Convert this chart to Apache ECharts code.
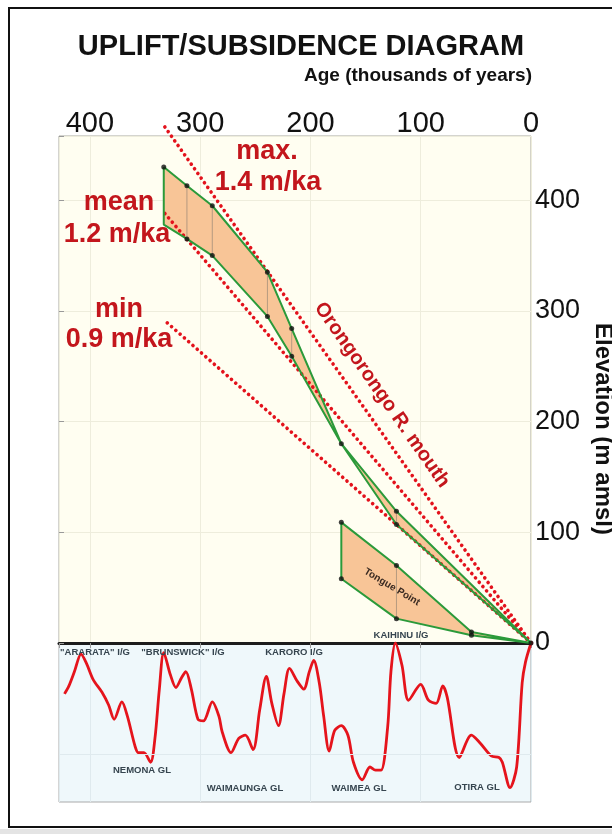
<!DOCTYPE html>
<html>
<head>
<meta charset="utf-8">
<title>Uplift/Subsidence Diagram</title>
<script src="https://cdn.jsdelivr.net/npm/echarts@6/dist/echarts.min.js"></script>
<style>
  html, body { margin: 0; padding: 0; background: #fff; }
  #chart { width: 612px; height: 834px; }
</style>
</head>
<body>
<div id="chart"></div>
<script>
// Orongorongo R. mouth terrace band (age ka, elevation m amsl)
const oroAges = [333, 312, 289, 239, 217, 172, 122, 0];
const oroTop = [430, 413, 395, 335, 284, 180, 119, 0];
const oroBottom = [378, 365, 350, 295, 259, 180, 107, 0];

// Tongue Point band
const tongueAges = [172, 122, 54, 0];
const tongueTop = [109, 70, 10, 0];
const tongueBottom = [58, 22, 7, 0];

// uplift rate lines, all start at (0, 0)
const rateNames = ['max', 'mean', 'min'];
const rateEndAge = [334, 332, 333];
const rateEndElev = [469, 388, 292];

// sea level curve below the diagram (age ka, relative value 0-100)
const curveAges = [423, 419, 414, 408, 403, 397, 389, 383, 378, 371, 366, 359, 356, 351, 345,
  341, 337, 333, 327, 322, 317, 313, 308, 302, 297, 289, 283, 280, 272, 265,
  259, 252, 246, 240, 235, 229, 224, 219, 212, 206, 201, 197, 192, 188, 183,
  178, 172, 166, 161, 153, 146, 141, 136, 130, 127, 123, 117, 111, 100, 93,
  86, 80, 76, 65, 54, 46, 36, 29, 26, 19, 13, 8, 5, 0];
const curveValues = [68, 73, 82, 93, 87, 77, 69, 61, 52, 63, 54, 35, 31, 31, 25,
  40, 71, 94, 80, 72, 78, 82, 71, 52, 51, 63, 54, 44, 31, 40,
  42, 33, 58, 79, 62, 48, 68, 84, 76, 71, 82, 89, 75, 54, 32,
  45, 48, 42, 25, 14, 22, 20, 20, 47, 82, 100, 86, 64, 74, 64,
  62, 73, 66, 28, 42, 37, 29, 28, 25, 9, 22, 75, 88, 100];

const AGE_MAX = 428;
const ELEV_MAX = 458;
const FONT = '"Liberation Sans", Arial, Helvetica, sans-serif';
const RED_TXT = '#c3161c';
const LABEL_TXT = '#36454f';

const bands = [
  { ages: oroAges, top: oroTop, bottom: oroBottom },
  { ages: tongueAges, top: tongueTop, bottom: tongueBottom }
];

// outline of a band: top edge, then bottom edge back, then close
function outline(b) {
  const pts = b.ages.map((a, i) => [a, b.top[i]]);
  for (let i = b.ages.length - 1; i >= 0; i--) pts.push([b.ages[i], b.bottom[i]]);
  pts.push([b.ages[0], b.top[0]]);
  return pts;
}

// black dots on the band edges (no dot on bottom-left corner of upper band)
function dots() {
  const pts = [];
  oroAges.forEach((a, i) => {
    pts.push([a, oroTop[i]]);
    if (i > 0 && oroBottom[i] !== oroTop[i]) pts.push([a, oroBottom[i]]);
  });
  tongueAges.forEach((a, i) => {
    if (i === tongueAges.length - 1) return;
    pts.push([a, tongueTop[i]]);
    pts.push([a, tongueBottom[i]]);
  });
  return pts;
}

function renderBand(params, api) {
  const b = bands[params.dataIndex];
  const top = b.ages.map((a, i) => api.coord([a, b.top[i]]));
  const bot = b.ages.map((a, i) => api.coord([a, b.bottom[i]]));
  const children = [{
    type: 'polygon',
    shape: { points: top.concat(bot.slice().reverse()) },
    style: { fill: '#f8c597' }
  }];
  b.ages.forEach((a, i) => {
    if (i > 0 && b.top[i] !== b.bottom[i]) {
      children.push({
        type: 'line',
        shape: { x1: top[i][0], y1: top[i][1], x2: bot[i][0], y2: bot[i][1] },
        style: { stroke: '#a58f7a', lineWidth: 0.8 }
      });
    }
  });
  return { type: 'group', children: children };
}

const rateSeries = rateNames.map((name, i) => ({
  name: name,
  type: 'line',
  xAxisIndex: 0,
  yAxisIndex: 0,
  data: [[0, 0], [rateEndAge[i], rateEndElev[i]]],
  symbol: 'none',
  clip: false,
  z: 3,
  lineStyle: { color: '#e3121c', width: 3.6, type: [0.1, 5.6], cap: 'round' }
}));

// text helper, always drawn above the plot
function label(text, x, y, font, fill, extra) {
  return Object.assign({
    type: 'text',
    x: x,
    y: y,
    z: 100,
    style: {
      text: text,
      fill: fill || '#111',
      font: font,
      textAlign: 'center',
      textVerticalAlign: 'middle'
    }
  }, extra || {});
}
function redLabel(text, x, y) {
  return label(text, x, y, 'bold 27px ' + FONT, RED_TXT);
}
function smallLabel(text, x, y) {
  return label(text, x, y, 'bold 9.5px ' + FONT, LABEL_TXT);
}

var chartDom = document.getElementById('chart');
var myChart = echarts.init(chartDom);
var option = {
  animation: false,
  backgroundColor: '#fff',
  grid: [
    { left: 59, right: 81, top: 136, height: 507, show: true,
      backgroundColor: '#fffef1', borderColor: '#a8a89e', borderWidth: 1 },
    { left: 59, right: 81, top: 643, height: 159, show: true,
      backgroundColor: '#eff8fb', borderColor: '#a9aaaa', borderWidth: 1 }
  ],
  xAxis: [
    {
      gridIndex: 0, type: 'value', position: 'top', inverse: true,
      min: 0, max: AGE_MAX, interval: 100,
      axisLine: { show: false },
      axisTick: { show: true, inside: true, length: 5, lineStyle: { color: '#999' } },
      axisLabel: {
        fontSize: 29, color: '#111', fontFamily: FONT, margin: -2,
        formatter: v => (v % 100 === 0 ? String(v) : '')
      },
      splitLine: { show: true, lineStyle: { color: '#eeeddc' } }
    },
    {
      gridIndex: 1, type: 'value', position: 'top', inverse: true,
      min: 0, max: AGE_MAX, interval: 100,
      axisLine: { show: true, onZero: false, lineStyle: { color: '#1c1c1c', width: 3 } },
      axisTick: { show: false },
      axisLabel: { show: false },
      splitLine: { show: true, lineStyle: { color: '#dfeaee' } }
    }
  ],
  yAxis: [
    {
      gridIndex: 0, type: 'value', position: 'right',
      min: 0, max: ELEV_MAX, interval: 100,
      axisLine: { show: false },
      axisTick: { show: false },
      axisLabel: {
        fontSize: 27, color: '#111', fontFamily: FONT, margin: 4,
        formatter: v => (v % 100 === 0 ? String(v) : '')
      },
      splitLine: { show: true, lineStyle: { color: '#eeeddc' } }
    },
    {
      gridIndex: 0, type: 'value', position: 'left',
      min: 0, max: ELEV_MAX, interval: 100,
      axisLine: { show: false },
      axisTick: { show: true, inside: true, length: 5, lineStyle: { color: '#999' } },
      axisLabel: { show: false },
      splitLine: { show: false }
    },
    {
      gridIndex: 1, type: 'value', min: 0, max: 100,
      axisLine: { show: false }, axisTick: { show: false },
      axisLabel: { show: false }, splitLine: { show: false }
    }
  ],
  series: [
    {
      name: 'bands',
      type: 'custom',
      xAxisIndex: 0,
      yAxisIndex: 0,
      data: [[0, 0], [1, 0]],
      renderItem: renderBand,
      z: 1
    },
    ...rateSeries,
    {
      name: 'Orongorongo R. mouth',
      type: 'line',
      xAxisIndex: 0, yAxisIndex: 0,
      data: outline(bands[0]),
      symbol: 'none',
      z: 4,
      lineStyle: { color: '#2b9a3a', width: 2 }
    },
    {
      name: 'Tongue Point',
      type: 'line',
      xAxisIndex: 0, yAxisIndex: 0,
      data: outline(bands[1]),
      symbol: 'none',
      z: 4,
      lineStyle: { color: '#2b9a3a', width: 2 }
    },
    {
      name: 'dots',
      type: 'scatter',
      xAxisIndex: 0, yAxisIndex: 0,
      data: dots(),
      symbolSize: 5,
      z: 5,
      itemStyle: { color: '#111' }
    },
    {
      name: 'sea level',
      type: 'line',
      xAxisIndex: 1, yAxisIndex: 2,
      data: curveAges.map((a, i) => [a, curveValues[i]]),
      symbol: 'none',
      smooth: 0.3,
      lineStyle: { color: '#e5141c', width: 2.8 },
      markLine: {
        silent: true, symbol: 'none', label: { show: false },
        lineStyle: { color: '#dfeaee', width: 1, type: 'solid' },
        data: [{ yAxis: 30 }]
      }
    }
  ],
  graphic: [
    { type: 'rect', shape: { x: 9, y: 8, width: 612, height: 819 },
      style: { fill: 'none', stroke: '#111', lineWidth: 2 }, z: 100 },
    { type: 'rect', shape: { x: 0, y: 829, width: 612, height: 5 },
      style: { fill: '#e4e4e4' }, z: 100 },
    label('UPLIFT/SUBSIDENCE DIAGRAM', 301, 47, 'bold 29px ' + FONT),
    label('Age (thousands of years)', 532, 76, 'bold 19px ' + FONT, '#111',
      { style: { text: 'Age (thousands of years)', fill: '#111', font: 'bold 19px ' + FONT, textAlign: 'right', textVerticalAlign: 'middle' } }),
    label('Elevation (m amsl)', 603, 429, 'bold 24px ' + FONT, '#111', { rotation: -Math.PI / 2 }),
    redLabel('max.', 267, 152),
    redLabel('1.4 m/ka', 268, 183),
    redLabel('mean', 119, 203),
    redLabel('1.2 m/ka', 117, 235),
    redLabel('min', 119, 310),
    redLabel('0.9 m/ka', 119, 340),
    label('Orongorongo R. mouth', 382, 395, 'bold 20px ' + FONT, RED_TXT, { rotation: -55 * Math.PI / 180 }),
    label('Tongue Point', 392, 587, 'bold 10px ' + FONT, '#3b2b22', { rotation: -31 * Math.PI / 180 }),
    smallLabel('"ARARATA" I/G', 95, 652),
    smallLabel('"BRUNSWICK" I/G', 183, 652),
    smallLabel('KARORO I/G', 294, 652),
    smallLabel('KAIHINU I/G', 401, 635),
    smallLabel('NEMONA GL', 142, 770),
    smallLabel('WAIMAUNGA GL', 245, 788),
    smallLabel('WAIMEA GL', 359, 788),
    smallLabel('OTIRA GL', 477, 787)
  ]
};
myChart.setOption(option);
</script>
</body>
</html>
